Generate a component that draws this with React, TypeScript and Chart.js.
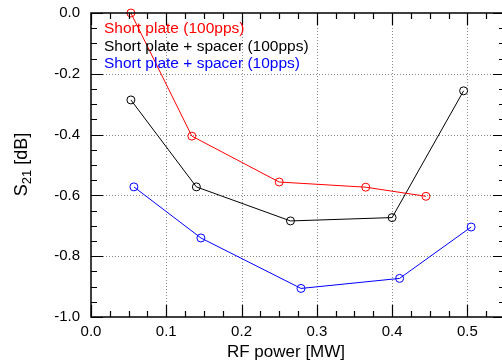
import React, { useEffect, useRef } from "react";
import { Chart, registerables } from "chart.js";

Chart.register(...registerables);

const seriesNames = [
  "Short plate (100pps)",
  "Short plate + spacer (100pps)",
  "Short plate + spacer (10pps)",
];
const seriesColors = ["#ff0000", "#000000", "#0000ff"];

const redX = [0.053, 0.134, 0.25, 0.365, 0.445];
const redY = [0.0, -0.405, -0.556, -0.573, -0.603];

const blackX = [0.053, 0.14, 0.265, 0.4, 0.495];
const blackY = [-0.286, -0.572, -0.684, -0.673, -0.256];

const blueX = [0.057, 0.146, 0.279, 0.41, 0.505];
const blueY = [-0.572, -0.74, -0.906, -0.873, -0.704];

const xTitle = "RF power [MW]";
const yTitleMain = "S";
const yTitleSub = "21";
const yTitleRest = " [dB]";

const FONT = "'Liberation Sans', Arial, Helvetica, sans-serif";

const toPts = (xs: number[], ys: number[]) => xs.map((x, i) => ({ x, y: ys[i] }));

export default function App() {
  const ref = useRef<HTMLCanvasElement | null>(null);

  useEffect(() => {
    const canvas = ref.current;
    if (!canvas) return;

    const framePlugin = {
      id: "frame",
      beforeDatasetsDraw(chart: any) {
        const { ctx, chartArea: a, scales } = chart;
        const xs = scales.x;
        const ys = scales.y;
        ctx.save();
        ctx.strokeStyle = "#8a8a8a";
        ctx.lineWidth = 1;
        ctx.setLineDash([1, 2]);
        for (let v = 1; v <= 5; v++) {
          const px = Math.round(xs.getPixelForValue(v / 10)) + 0.5;
          ctx.beginPath();
          ctx.moveTo(px, a.top);
          ctx.lineTo(px, a.bottom);
          ctx.stroke();
        }
        for (let v = 1; v <= 4; v++) {
          const py = Math.round(ys.getPixelForValue(-v / 5)) + 0.5;
          ctx.beginPath();
          ctx.moveTo(a.left, py);
          ctx.lineTo(a.right, py);
          ctx.stroke();
        }
        ctx.restore();
      },
      afterDatasetsDraw(chart: any) {
        const { ctx, chartArea: a, scales } = chart;
        const xs = scales.x;
        const ys = scales.y;
        ctx.save();
        ctx.strokeStyle = "#000";
        ctx.lineWidth = 1.5;
        ctx.setLineDash([]);
        ctx.strokeRect(a.left, a.top, a.right - a.left, a.bottom - a.top);
        ctx.lineWidth = 1.2;
        // x ticks every 0.025
        for (let i = 0; i <= 22; i++) {
          const major = i % 4 === 0;
          const len = major ? 12 : 6;
          const px = Math.round(xs.getPixelForValue(i * 0.025)) + 0.5;
          ctx.beginPath();
          ctx.moveTo(px, a.bottom);
          ctx.lineTo(px, a.bottom - len);
          ctx.moveTo(px, a.top);
          ctx.lineTo(px, a.top + len);
          ctx.stroke();
        }
        // y ticks every 0.05
        for (let i = 0; i <= 20; i++) {
          const major = i % 4 === 0;
          const len = major ? 12 : 6;
          const py = Math.round(ys.getPixelForValue(-i * 0.05)) + 0.5;
          ctx.beginPath();
          ctx.moveTo(a.left, py);
          ctx.lineTo(a.left + len, py);
          ctx.moveTo(a.right, py);
          ctx.lineTo(a.right - len, py);
          ctx.stroke();
        }
        // legend
        ctx.font = `15.5px ${FONT}`;
        ctx.textAlign = "left";
        ctx.textBaseline = "middle";
        seriesNames.forEach((n, i) => {
          ctx.fillStyle = seriesColors[i];
          ctx.fillText(n, 104, 29 + i * 17.5);
        });
        // x title
        ctx.fillStyle = "#000";
        ctx.font = `17px ${FONT}`;
        ctx.textAlign = "center";
        ctx.textBaseline = "middle";
        ctx.fillText(xTitle, 286, 352);
        // y title with subscript
        ctx.translate(21, 164.5);
        ctx.rotate(-Math.PI / 2);
        ctx.font = `18px ${FONT}`;
        const wS = ctx.measureText(yTitleMain).width;
        const wR = ctx.measureText(yTitleRest).width;
        ctx.font = `13px ${FONT}`;
        const wSub = ctx.measureText(yTitleSub).width;
        const total = wS + wSub + wR;
        let x0 = -total / 2;
        ctx.textAlign = "left";
        ctx.textBaseline = "alphabetic";
        ctx.font = `18px ${FONT}`;
        ctx.fillText(yTitleMain, x0, 6);
        x0 += wS;
        ctx.font = `13px ${FONT}`;
        ctx.fillText(yTitleSub, x0, 10);
        x0 += wSub;
        ctx.font = `18px ${FONT}`;
        ctx.fillText(yTitleRest, x0, 6);
        ctx.restore();
      },
    };

    const mk = (label: string, color: string, xs: number[], ys: number[]) => ({
      label,
      data: toPts(xs, ys),
      borderColor: color,
      backgroundColor: "rgba(0,0,0,0)",
      borderWidth: 1,
      pointRadius: 4,
      pointBorderWidth: 1,
      pointBorderColor: color,
      pointBackgroundColor: "rgba(0,0,0,0)",
      tension: 0,
      showLine: true,
      clip: false,
    });

    const chart = new Chart(canvas, {
      type: "scatter",
      data: {
        datasets: [
          mk(seriesNames[0], seriesColors[0], redX, redY),
          mk(seriesNames[1], seriesColors[1], blackX, blackY),
          mk(seriesNames[2], seriesColors[2], blueX, blueY),
        ],
      },
      options: {
        responsive: false,
        animation: false,
        layout: { padding: { left: 0, top: 13, right: 7, bottom: 0 } },
        plugins: { legend: { display: false }, tooltip: { enabled: false } },
        scales: {
          x: {
            type: "linear",
            min: 0,
            max: 0.55,
            border: { display: false },
            grid: { display: false, drawTicks: false },
            ticks: {
              stepSize: 0.1,
              includeBounds: false,
              padding: 6,
              color: "#000",
              font: { family: FONT, size: 15 },
              maxRotation: 0,
              callback: (v: any) => Number(v).toFixed(1),
            },
            afterFit: (s: any) => {
              s.height = 46;
              s.paddingLeft = 0;
              s.paddingRight = 0;
              s.paddingTop = 0;
              s.paddingBottom = 0;
            },
          },
          y: {
            type: "linear",
            min: -1,
            max: 0,
            border: { display: false },
            grid: { display: false, drawTicks: false },
            ticks: {
              stepSize: 0.2,
              padding: 11,
              color: "#000",
              font: { family: FONT, size: 15 },
              callback: (v: any) => Number(v).toFixed(1),
            },
            afterFit: (s: any) => {
              s.width = 91;
              s.paddingLeft = 0;
              s.paddingRight = 0;
              s.paddingTop = 0;
              s.paddingBottom = 0;
            },
          },
        },
      },
      plugins: [framePlugin],
    });
    return () => chart.destroy();
  }, []);

  return (
    <div style={{ position: "fixed", left: 0, top: 0, width: 502, height: 363, overflow: "hidden", background: "#fff" }}>
      <canvas ref={ref} width={512} height={363} style={{ display: "block" }} />
    </div>
  );
}
